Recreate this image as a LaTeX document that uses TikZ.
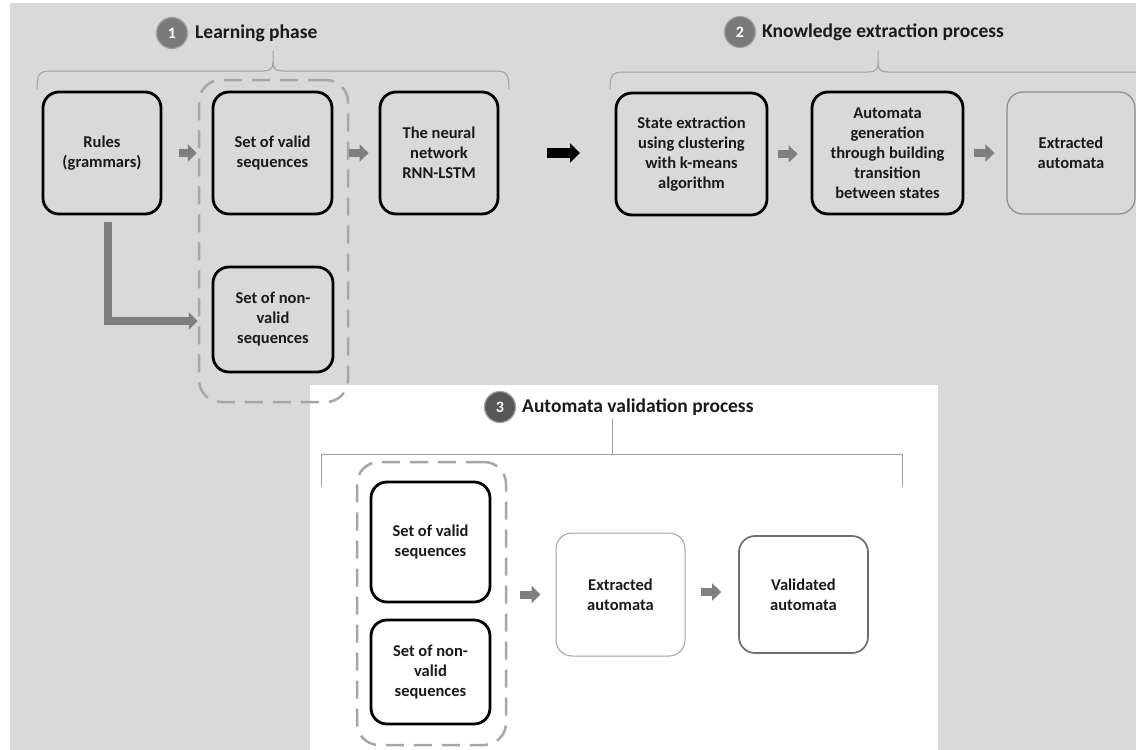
\documentclass[tikz,border=0pt]{standalone}
\usepackage{fontspec}
\setmainfont{Carlito}
\usetikzlibrary{arrows.meta,calc}
\definecolor{bgray}{HTML}{D9D9D9}
\definecolor{dashgray}{HTML}{A6A6A6}
\definecolor{arrgray}{HTML}{7F7F7F}
\definecolor{circgray}{HTML}{7A7A7A}
\definecolor{circdark}{HTML}{575757}
\definecolor{bracegray}{HTML}{A0A0A0}
\definecolor{thingray}{HTML}{8C8C8C}
\definecolor{midgray}{HTML}{6E6E6E}
\definecolor{txt}{HTML}{1A1A1A}
\newcommand\boxfnt{\fontsize{16.5}{20}\selectfont\bfseries}
\newcommand\headfnt{\fontsize{19.5}{22}\selectfont\bfseries}
\tikzset{
  basebox/.style={align=center, font=\boxfnt, text=txt, inner sep=0pt, rounded corners=16pt},
  thickbox/.style={basebox, draw=black, line width=2.8pt},
  thinbox/.style={basebox, draw=thingray, line width=1.2pt},
  midbox/.style={basebox, draw=midgray, line width=1.7pt},
  dashbox/.style={draw=dashgray, line width=2.5pt, dash pattern=on 18pt off 10pt, rounded corners=22pt, inner sep=0pt},
  numcirc/.style={circle, fill=circgray, draw=bracegray, line width=1.2pt, minimum size=31pt, inner sep=0pt, text=white, font=\fontsize{16}{16}\selectfont\bfseries},
  headtxt/.style={anchor=west, font=\headfnt, text=txt, inner sep=0pt},
  blockarr/.style={draw=arrgray, line width=8pt, -{Triangle[length=9pt,width=17pt]}},
  blackarr/.style={draw=black, line width=10pt, -{Triangle[length=10pt,width=19pt]}},
  bracel/.style={draw=bracegray, line width=1pt}
}
\begin{document}
\begin{tikzpicture}[x=1pt,y=-1pt]
\useasboundingbox (0,0) rectangle (1136,750);
\fill[white] (0,0) rectangle (1136,750);
\fill[bgray] (10,3) rectangle (1136,750);
\fill[white] (310,385) rectangle (938,750);

% ---------- phase 1 ----------
\node[numcirc] (c1) at (172,33) {1};
\node[headtxt] (h1) at (195,33) {Learning phase};
\draw[bracel] (37,89) .. controls (37,75) and (39,71) .. (50,71) -- (263,71)
  .. controls (270,71) and (273,69) .. (273,62) -- (273,51);
\draw[bracel] (273,62) .. controls (273,69) and (276,71) .. (283,71) -- (496,71)
  .. controls (507,71) and (509,75) .. (509,89);

\node[thickbox, minimum width=118pt, minimum height=122pt] (rules) at (102,153) {Rules\\(grammars)};
\node[thickbox, minimum width=119pt, minimum height=122pt] (valid1) at (272.5,153) {Set of valid\\sequences};
\node[thickbox, minimum width=118pt, minimum height=122pt] (nn) at (439,153) {The neural\\network\\RNN-LSTM};
\node[thickbox, minimum width=120pt, minimum height=105pt] (nonvalid1) at (273,319.5) {Set of non-\\valid\\sequences};
\node[dashbox, minimum width=149pt, minimum height=322pt] (dash1) at (273.5,241) {};

\draw[blockarr, shorten <=17pt, shorten >=1pt] (rules.east) -- (rules.east -| dash1.west);
\draw[blockarr, shorten <=0pt, shorten >=10pt] (dash1.east |- nn.west) -- (nn.west);
\coordinate (nvl) at ([yshift=-1.5pt]nonvalid1.west);
\draw[blockarr] ([xshift=6pt,yshift=-7pt]rules.south) |- (dash1.west |- nvl);

% big black arrow
\coordinate (bae) at (616,153);
\draw[blackarr, shorten <=48pt, shorten >=36pt] (nn.east) -- (nn.east -| bae);

% ---------- phase 2 ----------
\node[numcirc] (c2) at (740,32) {2};
\node[headtxt] (h2) at (762,32) {Knowledge extraction process};
\draw[bracel] (610,89) .. controls (610,76) and (612,72) .. (623,72) -- (868,72)
  .. controls (875,72) and (878,70) .. (878,63) -- (878,51);
\draw[bracel] (878,63) .. controls (878,70) and (881,72) .. (888,72) -- (1136,72);

\node[thickbox, minimum width=151pt, minimum height=122pt] (state) at (691.5,154) {State extraction\\using clustering\\with k-means\\algorithm};
\node[thickbox, minimum width=151pt, minimum height=122pt] (autgen) at (887.5,153) {Automata\\generation\\through building\\transition\\between states};
\node[thinbox, minimum width=128pt, minimum height=122pt] (extr1) at (1071,153) {Extracted\\automata};

\draw[blockarr, shorten <=10pt, shorten >=13pt] (state.east) -- (state.east -| autgen.west);
\draw[blockarr, shorten <=10pt, shorten >=12pt] (autgen.east) -- (autgen.east -| extr1.west);

% ---------- phase 3 ----------
\node[numcirc, fill=circdark] (c3) at (500,407) {3};
\node[headtxt] (h3) at (522,407) {Automata validation process};
\draw[bracel] (321,487) -- (321,454) -- (902,454) -- (902,487);
\draw[bracel] (612,454) -- (612,419);

\node[thickbox, minimum width=119pt, minimum height=120pt] (valid3) at (430.5,542) {Set of valid\\sequences};
\node[thickbox, minimum width=119pt, minimum height=104pt] (nonvalid3) at (430.5,672) {Set of non-\\valid\\sequences};
\node[dashbox, minimum width=149pt, minimum height=283pt] (dash3) at (431.5,603.5) {};
\node[thinbox, draw=bracegray, line width=1pt, minimum width=129pt, minimum height=123pt] (extr3) at (620.5,594.5) {Extracted\\automata};
\node[midbox, minimum width=129pt, minimum height=117pt] (valid) at (803.5,594.5) {Validated\\automata};

\coordinate (a5) at (0,592);
\draw[blockarr, shorten <=13pt, shorten >=15pt] (dash3.east |- extr3.west) -- (extr3.west);
\draw[blockarr, shorten <=15pt, shorten >=17pt] (extr3.east |- a5) -- (valid.west |- a5);
\end{tikzpicture}
\end{document}
